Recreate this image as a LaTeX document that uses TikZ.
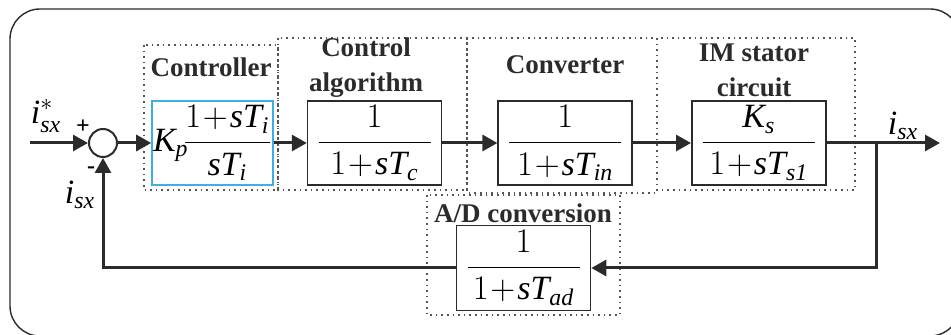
\documentclass[tikz,border=0pt]{standalone}
\usepackage{amsmath}
\usepackage{fontspec}
\setmainfont{Liberation Serif}
\usetikzlibrary{positioning,arrows.meta}
\definecolor{inkDark}{HTML}{2B2B2B}
\definecolor{piBlue}{HTML}{3FAEE0}
\definecolor{dotGray}{HTML}{555555}
\medmuskip=1mu
\newcommand{\blkfrac}[2]{\dfrac{#1}{\makebox[56pt]{$#2$}}}

\begin{document}
\begin{tikzpicture}[x=0.5pt, y=-0.5pt, every node/.style={font=\fontsize{17}{18}\selectfont},
  blk/.style={draw=inkDark, line width=0.8pt, inner sep=1pt, minimum width=67pt, minimum height=42pt},
  lbl/.style={font=\fontsize{13.5}{17.5}\selectfont\bfseries, text=inkDark, align=center, inner sep=0pt},
  grp/.style={draw=dotGray, dotted, line width=0.8pt},
  sig/.style={draw=inkDark, line width=1.5pt},
  arr/.style={sig, -{Triangle[length=7.5pt,width=8pt]}}]
\useasboundingbox (0,0) rectangle (951,335);
\draw[draw=inkDark, line width=0.7pt, rounded corners=15pt] (10,9) rectangle (960,336);
\draw[grp] (144,45) rectangle (278,190); \draw[grp] (278,38) rectangle (467,190);
\draw[grp] (467,38) rectangle (657,193); \draw[grp] (657,38) rectangle (855,190);
\draw[grp] (427,195) rectangle (620,315);
\node[circle, draw=inkDark, line width=1pt, minimum size=14pt, inner sep=0pt] (sum) at (103,143) {};
\node[blk, draw=piBlue, inner sep=0pt, minimum width=60.5pt] (pi) at (212.5,143) {$\mathit{K_p}\!\dfrac{1+\mathit{sT_i}}{\mathit{sT_i}}$};
\node[blk, right=16.5pt of pi] (ca) {$\blkfrac{1}{1+\mathit{sT_c}}$};
\node[blk, right=27.5pt of ca] (conv) {$\blkfrac{1}{1+\mathit{sT_{in}}}$};
\node[blk, right=29pt of conv] (im) {$\blkfrac{\mathit{K_s}}{1+\mathit{sT_{s1}}}$};
\node[blk, minimum height=42.5pt] (ad) at (523.5,268) {$\blkfrac{1}{1+\mathit{sT_{ad}}}$};
\node[lbl] (lctrl) at (211,67) {Controller};
\node[lbl] (lca) at (366,68) {Control\\algorithm};
\node[lbl] (lconv) at (565,65) {Converter};
\node[lbl] (lim) at (754,70) {IM stator\\circuit};
\node[lbl] (lad) at (523,213) {A/D conversion};
\node (lref) at (46,116) {$\mathit{i_{sx}^{*}}$};
\node (lfb) at (80,195) {$\mathit{i_{sx}}$};
\node (lout) at (903,126) {$\mathit{i_{sx}}$};
\node[font=\fontsize{12}{12}\selectfont\bfseries] (plus) at (83,127) {+};
\node[font=\fontsize{12}{12}\selectfont\bfseries] (minus) at (91,170) {-};
\coordinate (in) at (30,143); \coordinate (out) at (940,143); \coordinate (br) at (876,143);
\draw[arr] (in) -- (sum); \draw[arr] (sum) -- (pi); \draw[arr] (pi) -- (ca);
\draw[arr] (ca) -- (conv); \draw[arr] (conv) -- (im); \draw[arr] (im) -- (out);
\draw[arr] (br) |- (ad); \draw[arr] (ad) -| (sum);
\end{tikzpicture}
\end{document}
